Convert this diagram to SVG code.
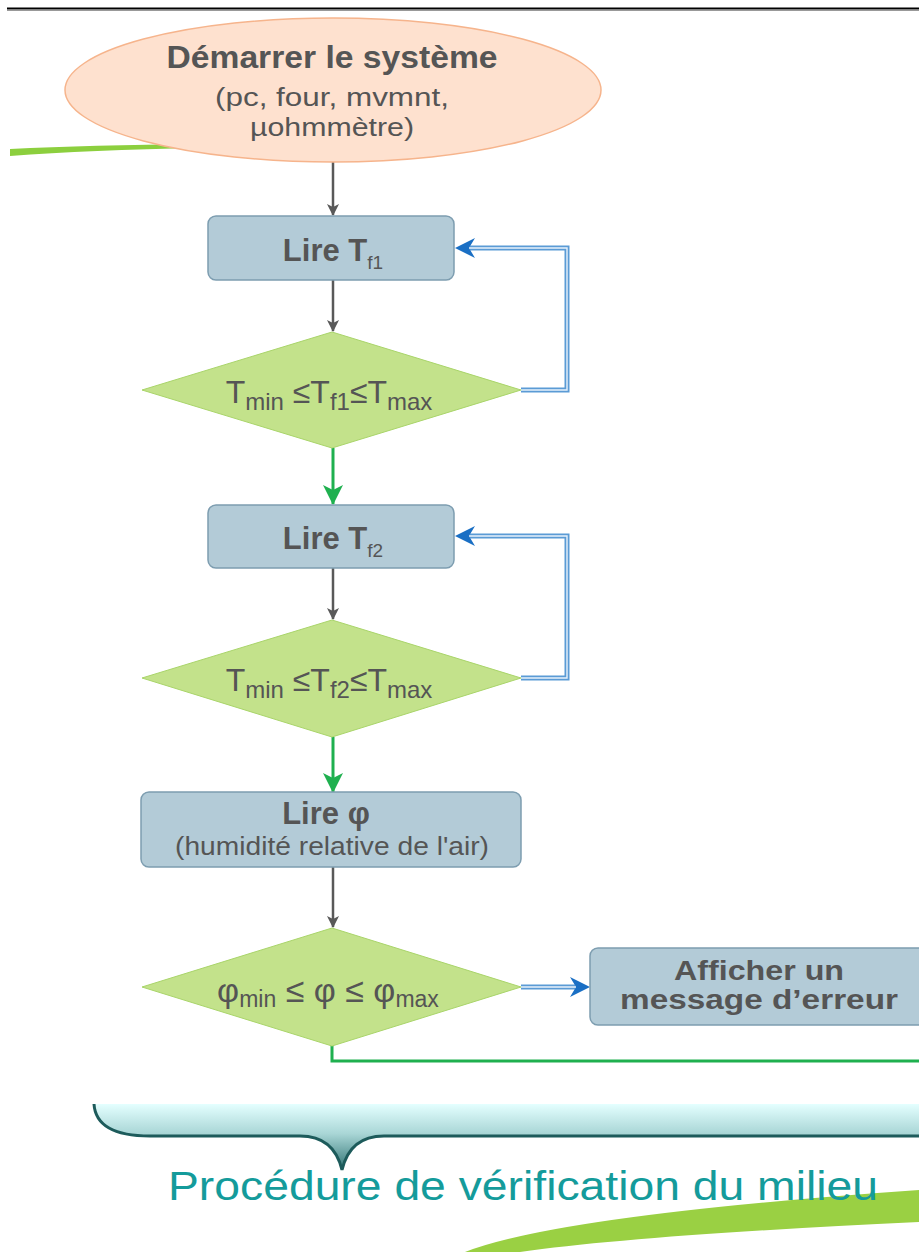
<svg xmlns="http://www.w3.org/2000/svg" width="919" height="1252" viewBox="0 0 919 1252">
  <style>
    .proc { fill: #b3cbd7; stroke: #7d9db0; stroke-width: 1.5; }
    .dec { fill: #c3e28b; stroke: #a9d46a; stroke-width: 1; }
    .t { font-family: "Liberation Sans", Arial, sans-serif; fill: #555555; text-anchor: middle; }
    .b { font-weight: bold; }
    .gray { stroke: #595959; stroke-width: 2.5; fill: none; }
    .green { stroke: #1fb04f; stroke-width: 3; fill: none; }
    .blueo { stroke: #5b9bd5; stroke-width: 5; fill: none; }
    .bluei { stroke: #e8f2fb; stroke-width: 1.4; fill: none; }
    .bluehead { fill: #1a6fc4; }
  </style>
  <defs>
    <marker id="ahGray" viewBox="0 0 12 12" refX="11" refY="6" markerWidth="12" markerHeight="12" markerUnits="userSpaceOnUse" orient="auto">
      <path d="M0,0 L12,6 L0,12 L3,6 z" fill="#595959"/>
    </marker>
    <marker id="ahGreen" viewBox="0 0 20 20" refX="19" refY="10" markerWidth="20" markerHeight="20" markerUnits="userSpaceOnUse" orient="auto">
      <path d="M0,0 L20,10 L0,20 L5,10 z" fill="#1fb04f"/>
    </marker>
    <linearGradient id="braceFill" x1="0" y1="0" x2="0" y2="1">
      <stop offset="0" stop-color="#e4ffff"/>
      <stop offset="0.45" stop-color="#a9d6d6"/>
      <stop offset="1" stop-color="#2f7373"/>
    </linearGradient>
  </defs>

  <!-- page rule -->
  <line x1="7" y1="8.5" x2="919" y2="8.5" stroke="#000" stroke-width="2"/>
  <line x1="7" y1="10.5" x2="919" y2="10.5" stroke="#999" stroke-width="1"/>

  <!-- decorative swooshes -->
  <path d="M10,149 Q90,145 200,144 L200,148 Q90,150 10,156 z" fill="#8ccf3e"/>
  <path d="M465,1252 Q560,1215 919,1190 L919,1222 Q640,1235 520,1252 z" fill="#9ad043"/>

  <!-- connectors -->
  <g id="connectors">
    <line class="gray" x1="333" y1="162" x2="333" y2="215" marker-end="url(#ahGray)"/>
    <line class="gray" x1="333" y1="280" x2="333" y2="331" marker-end="url(#ahGray)"/>
    <line class="green" x1="333" y1="448" x2="333" y2="504" marker-end="url(#ahGreen)"/>
    <line class="gray" x1="333" y1="568" x2="333" y2="619" marker-end="url(#ahGray)"/>
    <line class="green" x1="333" y1="737" x2="333" y2="792" marker-end="url(#ahGreen)"/>
    <line class="gray" x1="333" y1="867" x2="333" y2="927" marker-end="url(#ahGray)"/>
    <!-- loop back: Tf1 -->
    <path class="blueo" d="M521,390 H567 V248 H470"/>
    <path class="bluei" d="M521,390 H567 V248 H470"/>
    <path class="bluehead" d="M455,248 L475,238 L469,248 L475,258 z"/>
    <!-- loop back: Tf2 -->
    <path class="blueo" d="M521,678 H567 V536 H470"/>
    <path class="bluei" d="M521,678 H567 V536 H470"/>
    <path class="bluehead" d="M455,536 L475,526 L469,536 L475,546 z"/>
    <!-- error branch -->
    <path class="blueo" d="M521,987 H575"/>
    <path class="bluei" d="M521,987 H575"/>
    <path class="bluehead" d="M590,987 L570,977 L576,987 L570,997 z"/>
    <!-- continue -->
    <path class="green" d="M332,1046 V1061 H919"/>
  </g>

  <g id="start">
    <ellipse cx="333" cy="90" rx="268" ry="72" fill="#fee1cf" stroke="#f6b48c" stroke-width="1.5"/>
    <text class="t b" x="332" y="68" font-size="32" textLength="331" lengthAdjust="spacingAndGlyphs">Démarrer le système</text>
    <text class="t" x="332" y="106" font-size="25" textLength="234" lengthAdjust="spacingAndGlyphs">(pc, four, mvmnt,</text>
    <text class="t" x="332" y="136" font-size="25" textLength="164" lengthAdjust="spacingAndGlyphs">µohmmètre)</text>
  </g>

  <g id="read-tf1">
    <rect class="proc" x="208" y="216" width="246" height="64" rx="8"/>
    <text class="t b" x="333" y="261" font-size="31">Lire T<tspan font-size="19" font-weight="normal" dy="8">f1</tspan></text>
  </g>

  <g id="check-tf1">
    <polygon class="dec" points="332,332 521,390 332,448 142,390"/>
    <text class="t" x="329" y="403" font-size="32">T<tspan font-size="24" dy="7">min</tspan><tspan dy="-7"> ≤T</tspan><tspan font-size="24" dy="7">f1</tspan><tspan dy="-7">≤T</tspan><tspan font-size="24" dy="7">max</tspan></text>
  </g>

  <g id="read-tf2">
    <rect class="proc" x="208" y="505" width="246" height="63" rx="8"/>
    <text class="t b" x="333" y="549" font-size="31">Lire T<tspan font-size="19" font-weight="normal" dy="8">f2</tspan></text>
  </g>

  <g id="check-tf2">
    <polygon class="dec" points="332,620 521,678 332,737 142,678"/>
    <text class="t" x="329" y="691" font-size="32">T<tspan font-size="24" dy="7">min</tspan><tspan dy="-7"> ≤T</tspan><tspan font-size="24" dy="7">f2</tspan><tspan dy="-7">≤T</tspan><tspan font-size="24" dy="7">max</tspan></text>
  </g>

  <g id="read-phi">
    <rect class="proc" x="141" y="792" width="380" height="75" rx="8"/>
    <text class="t b" x="326" y="824" font-size="31">Lire φ</text>
    <text class="t" x="332" y="855" font-size="26" textLength="314" lengthAdjust="spacingAndGlyphs">(humidité relative de l'air)</text>
  </g>

  <g id="check-phi">
    <polygon class="dec" points="332,928 521,987 332,1046 142,987"/>
    <text class="t" x="328" y="1002" font-size="34">φ<tspan font-size="23" dy="5">min</tspan><tspan dy="-5"> ≤ φ ≤ φ</tspan><tspan font-size="23" dy="5">max</tspan></text>
  </g>

  <g id="error">
    <rect class="proc" x="590" y="948" width="345" height="77" rx="8"/>
    <text class="t b" x="759" y="980" font-size="28" textLength="170" lengthAdjust="spacingAndGlyphs">Afficher un</text>
    <text class="t b" x="759" y="1009" font-size="28" textLength="278" lengthAdjust="spacingAndGlyphs">message d’erreur</text>
  </g>

  <g id="brace">
    <path d="M94,1104 Q96,1136 150,1136 H300 Q334,1136 342,1170 Q350,1136 384,1136 H919 V1104 Z" fill="url(#braceFill)" stroke="none"/>
    <path d="M94,1104 Q96,1136 150,1136 H300 Q334,1136 342,1170 Q350,1136 384,1136 H919" fill="none" stroke="#1d5b5b" stroke-width="3"/>
    <text x="523" y="1200" font-family="Liberation Sans, Arial, sans-serif" font-size="41" fill="#149b9b" text-anchor="middle" textLength="710" lengthAdjust="spacingAndGlyphs">Procédure de vérification du milieu</text>
  </g>
</svg>
